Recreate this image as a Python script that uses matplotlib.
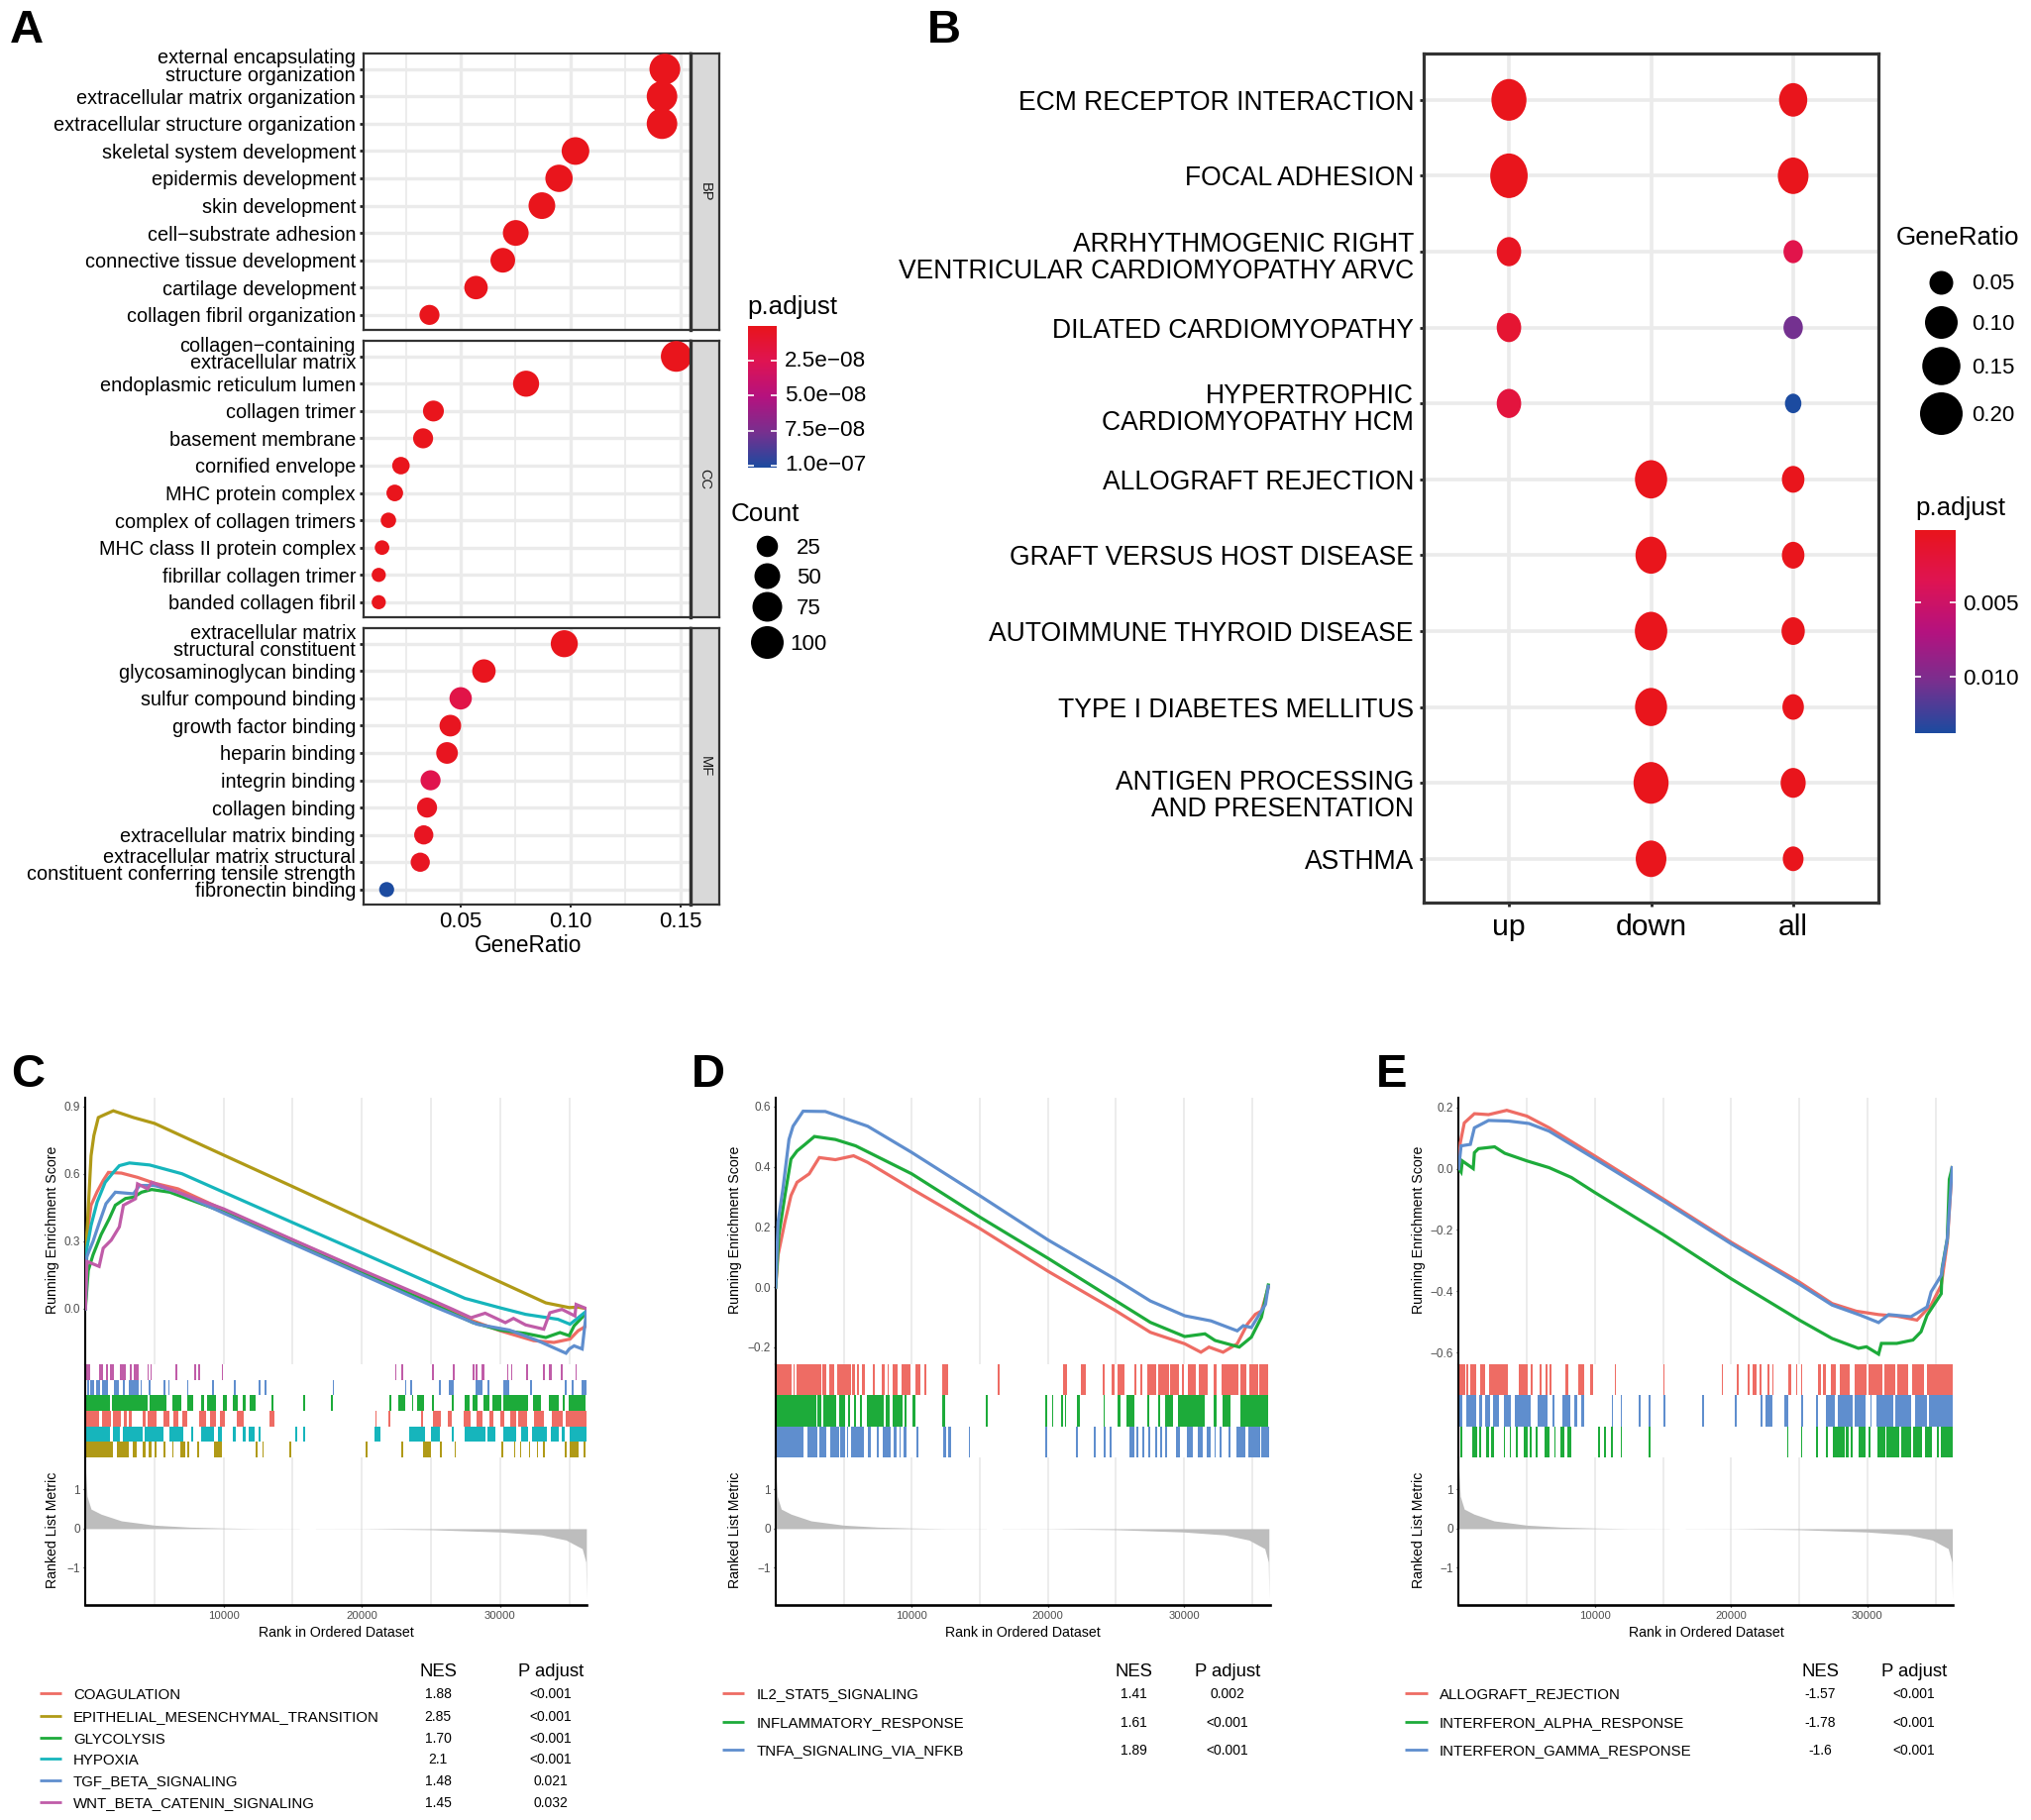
#!/usr/bin/env python3
"""Five panel enrichment figure: GO dotplot, KEGG dotplot and three GSEA plots."""

import numpy as np
import matplotlib

matplotlib.use("Agg")

import matplotlib.pyplot as plt
from matplotlib.colors import LinearSegmentedColormap, Normalize
from matplotlib.path import Path
from matplotlib.transforms import Affine2D, ScaledTranslation

W, H = 2050, 1837
DPI = 100
GRID = "#EBEBEB"
FRAME = "#333333"
GREY_TEXT = "#4D4D4D"

plt.rcParams["font.family"] = ["Liberation Sans", "DejaVu Sans"]

CMAP = LinearSegmentedColormap.from_list(
    "padj", ["#E9151C", "#DF1453", "#B5127F", "#78308F", "#1C4BA0"]
)

# panel A
A_BP_TERMS = [
    "external encapsulating\nstructure organization",
    "extracellular matrix organization",
    "extracellular structure organization",
    "skeletal system development",
    "epidermis development",
    "skin development",
    "cell\u2212substrate adhesion",
    "connective tissue development",
    "cartilage development",
    "collagen fibril organization",
]
A_BP_RATIO = [0.143, 0.1417, 0.1417, 0.1023, 0.0948, 0.087, 0.0751, 0.0692, 0.057, 0.0358]
A_BP_COUNT = [84, 82, 82, 62, 60, 56, 50, 44, 37, 22]
A_BP_PADJ = [1e-10] * 10

A_CC_TERMS = [
    "collagen\u2212containing\nextracellular matrix",
    "endoplasmic reticulum lumen",
    "collagen trimer",
    "basement membrane",
    "cornified envelope",
    "MHC protein complex",
    "complex of collagen trimers",
    "MHC class II protein complex",
    "fibrillar collagen trimer",
    "banded collagen fibril",
]
A_CC_RATIO = [0.1482, 0.0798, 0.0376, 0.0329, 0.0228, 0.02, 0.0171, 0.0142, 0.0127, 0.0127]
A_CC_COUNT = [84, 52, 24, 22, 16, 14, 11, 9, 8, 8]
A_CC_PADJ = [1e-10] * 10

A_MF_TERMS = [
    "extracellular matrix\nstructural constituent",
    "glycosaminoglycan binding",
    "sulfur compound binding",
    "growth factor binding",
    "heparin binding",
    "integrin binding",
    "collagen binding",
    "extracellular matrix binding",
    "extracellular matrix structural\nconstituent conferring tensile strength",
    "fibronectin binding",
]
A_MF_RATIO = [0.0972, 0.0606, 0.05, 0.0453, 0.0438, 0.0363, 0.0347, 0.0332, 0.0316, 0.0163]
A_MF_COUNT = [58, 37, 31, 27, 27, 22, 22, 20, 20, 10]
A_MF_PADJ = [1e-10, 1e-9, 2.0e-8, 2e-9, 2e-9, 2.3e-8, 3e-9, 3e-9, 3e-9, 1e-7]

A_COUNT_NODES = [5, 25, 50, 75, 100]
A_DIAM_NODES = [13, 21.5, 26, 30, 33]
A_COUNT_LEGEND = [25, 50, 75, 100]
A_PADJ_TICKS = [2.5e-8, 5.0e-8, 7.5e-8, 1.0e-7]
A_PADJ_LABELS = ["2.5e\u221208", "5.0e\u221208", "7.5e\u221208", "1.0e\u221207"]

# panel B
B_TERMS = [
    "ECM RECEPTOR INTERACTION",
    "FOCAL ADHESION",
    "ARRHYTHMOGENIC RIGHT\nVENTRICULAR CARDIOMYOPATHY ARVC",
    "DILATED CARDIOMYOPATHY",
    "HYPERTROPHIC\nCARDIOMYOPATHY HCM",
    "ALLOGRAFT REJECTION",
    "GRAFT VERSUS HOST DISEASE",
    "AUTOIMMUNE THYROID DISEASE",
    "TYPE I DIABETES MELLITUS",
    "ANTIGEN PROCESSING\nAND PRESENTATION",
    "ASTHMA",
]
B_GROUPS = ["up", "down", "all"]
nan = float("nan")
B_UP_RATIO = [0.19, 0.225, 0.08, 0.08, 0.08, nan, nan, nan, nan, nan, nan]
B_UP_PADJ = [1e-5, 1e-5, 5e-4, 1.5e-3, 2.2e-3, nan, nan, nan, nan, nan, nan]
B_DOWN_RATIO = [nan, nan, nan, nan, nan, 0.152, 0.14, 0.155, 0.15, 0.19, 0.135]
B_DOWN_PADJ = [nan, nan, nan, nan, nan, 1e-5, 1e-5, 1e-5, 1e-5, 1e-5, 1e-5]
B_ALL_RATIO = [0.108, 0.135, 0.047, 0.047, 0.033, 0.067, 0.067, 0.072, 0.06, 0.084, 0.055]
B_ALL_PADJ = [1e-5, 1e-5, 3e-3, 0.0105, 0.0138, 1e-5, 1e-5, 1e-5, 1e-5, 1e-5, 1e-5]
B_RATIO_NODES = [0.03, 0.05, 0.10, 0.15, 0.20, 0.25]
B_DIAM_NODES = [19, 24, 33, 38.5, 43, 47]
B_RATIO_LEGEND = [0.05, 0.10, 0.15, 0.20]
B_PADJ_TICKS = [0.005, 0.010]

# shared ranked list metric
METRIC_RANK = [0, 117, 409, 1140, 2602, 5000, 7500, 10000, 12500, 15470, 15471, 16639,
               16640, 20000, 25000, 30000, 33000, 34766, 35936, 36200, 36240]
METRIC_VALUE = [1.6, 0.83, 0.5, 0.37, 0.2, 0.09, 0.04, 0.017, 0.004, 0.003, 0, 0,
                -0.003, -0.004, -0.025, -0.085, -0.16, -0.29, -0.51, -0.85, -1.78]

# panel C
C_COAG_RANK = [0, 58, 409, 848, 1287, 1667, 2602, 3772, 5000, 6696, 10000, 15029, 20000,
               25000, 28041, 30000, 32427, 33889, 35058, 35643, 36258, 36258]
C_COAG_ES = [0, 0.30, 0.46, 0.52, 0.57, 0.606, 0.603, 0.584, 0.558, 0.533, 0.44, 0.304, 0.168,
             0.033, -0.054, -0.098, -0.142, -0.15, -0.135, -0.098, -0.076, 0]
C_EMT_RANK = [0, 58, 409, 614, 936, 1287, 2018, 3480, 5000, 10000, 15029, 20000, 25000,
              30000, 33304, 35000, 35643, 36258]
C_EMT_ES = [0, 0.27, 0.68, 0.77, 0.85, 0.86, 0.88, 0.85, 0.824, 0.683, 0.542, 0.401, 0.26,
            0.119, 0.026, 0.005, 0.007, 0]
C_GLY_RANK = [0, 205, 556, 1140, 1725, 2164, 2895, 3480, 4064, 4795, 6111, 10000, 15029,
              20000, 25000, 28041, 30000, 31842, 33304, 34328, 35000, 35351, 36258]
C_GLY_ES = [0, 0.17, 0.24, 0.33, 0.40, 0.46, 0.49, 0.496, 0.518, 0.53, 0.518, 0.43, 0.296,
            0.16, 0.024, -0.062, -0.095, -0.11, -0.128, -0.106, -0.12, -0.076, -0.018]
C_HYP_RANK = [0, 117, 409, 848, 1433, 2018, 2456, 3187, 4649, 6988, 10000, 15029, 20000,
              25000, 27456, 30000, 31842, 34182, 35058, 36258]
C_HYP_ES = [0, 0.27, 0.37, 0.474, 0.562, 0.606, 0.636, 0.648, 0.639, 0.60, 0.518, 0.382, 0.248,
            0.112, 0.046, 0.004, -0.025, -0.047, -0.069, -0.01]
C_TGF_RANK = [0, 58, 556, 994, 1491, 2164, 3480, 3918, 5000, 6696, 10000, 15029, 20000,
              25000, 28334, 30673, 32720, 34766, 35000, 35351, 35936, 36258]
C_TGF_ES = [0, 0.225, 0.30, 0.38, 0.467, 0.518, 0.511, 0.548, 0.548, 0.518, 0.425, 0.288, 0.152,
            0.015, -0.069, -0.095, -0.142, -0.198, -0.179, -0.165, -0.179, -0.003]
C_WNT_RANK = [0, 117, 994, 1287, 1871, 2456, 2749, 3626, 3772, 4503, 4795, 6696, 10000, 15029,
              20000, 25000, 26579, 27895, 28919, 30380, 30965, 31842, 33158, 33597, 34474,
              35410, 35497, 36258]
C_WNT_ES = [0, 0.21, 0.188, 0.269, 0.305, 0.364, 0.46, 0.489, 0.555, 0.533, 0.562, 0.518, 0.444,
            0.306, 0.172, 0.04, -0.003, -0.04, -0.02, -0.062, -0.043, -0.072, -0.091, -0.018,
            -0.003, -0.032, 0.019, 0]

C_RUG_WNT = [(80, 320), (990, 1260), (1490, 1670), (1790, 2080), (2490, 2930), (3220, 3390),
             (3510, 3860), (4500, 4590), (4740, 4820), (6490, 6670), (7890, 8010), (8190, 8330),
             (9880, 9970), (22400, 22490), (22870, 22980), (25060, 25180), (26580, 26700),
             (28040, 28130), (28230, 28340), (28660, 28860), (30530, 30620), (30820, 30910),
             (31900, 31990), (33130, 33220), (33540, 33770), (34390, 34500), (35440, 35530)]
C_RUG_TGF = [(150, 290), (380, 640), (790, 1050), (1200, 1610), (2050, 2400), (2690, 2870),
             (3130, 3830), (3980, 4060), (4590, 4740), (5670, 5790), (5990, 6110), (7340, 7430),
             (9150, 9270), (10730, 10850), (12520, 12660), (12960, 13070), (17890, 18010),
             (23100, 23210), (23510, 23630), (25590, 25700), (26290, 26640), (28220, 28690),
             (29100, 29250), (30240, 30680), (32190, 32310), (34680, 34800), (35210, 35330),
             (35880, 36230)]
C_RUG_GLY = [(60, 1780), (1900, 4500), (4680, 5880), (6260, 6930), (7400, 7780), (8390, 8600),
             (8830, 9450), (9970, 10200), (10640, 10990), (11370, 11580), (11870, 12310),
             (13480, 13600), (15760, 15880), (17750, 17890), (22020, 22130), (22630, 23120),
             (23630, 23740), (24030, 24530), (25060, 25200), (26490, 26640), (27400, 27810),
             (27980, 28390), (28800, 29210), (29450, 30090), (30240, 31990), (32370, 32960),
             (33540, 34240), (34560, 34680), (34970, 36170)]
C_RUG_COAG = [(60, 990), (1200, 1870), (2020, 2600), (2800, 2980), (3130, 3330), (4120, 4360),
              (4500, 5180), (5640, 6110), (6400, 6700), (7020, 7340), (8220, 8740), (9030, 9470),
              (9710, 10060), (10940, 11460), (13330, 13710), (20960, 21080), (21890, 22030),
              (24270, 24390), (25120, 25700), (26230, 26520), (27340, 27900), (28280, 28720),
              (29230, 29520), (30030, 30320), (30730, 31140), (31320, 31960), (32430, 33160),
              (33740, 34530), (34770, 36290)]
C_RUG_HYP = [(60, 1780), (1960, 2460), (2690, 4120), (4300, 5670), (6110, 7080), (7660, 7810),
             (8360, 9330), (9560, 9910), (10640, 10880), (11410, 11610), (11840, 12250),
             (12540, 12690), (13070, 13130), (15180, 15350), (15760, 15880), (20910, 21370),
             (23450, 24590), (24970, 25610), (26520, 26640), (27400, 28920), (29070, 29650),
             (30240, 31170), (31490, 31990), (32310, 33360), (33660, 34240), (34480, 34650),
             (35060, 36290)]
C_RUG_EMT = [(60, 2020), (2310, 3130), (3400, 3710), (4150, 4360), (4590, 4770), (5000, 5180),
             (5670, 5820), (6260, 6400), (6840, 7190), (7370, 7510), (8100, 8220), (9330, 9850),
             (12340, 12460), (12840, 12920), (14760, 14880), (20260, 20380), (22870, 22980),
             (24390, 24970), (25610, 25760), (26720, 26810), (30090, 30210), (31020, 31110),
             (31430, 31550), (32080, 32190), (32660, 32750), (33130, 33220), (34680, 34800),
             (35060, 35700), (36060, 36150)]

C_NAMES = ["COAGULATION", "EPITHELIAL_MESENCHYMAL_TRANSITION", "GLYCOLYSIS", "HYPOXIA",
           "TGF_BETA_SIGNALING", "WNT_BETA_CATENIN_SIGNALING"]
C_NES = ["1.88", "2.85", "1.70", "2.1", "1.48", "1.45"]
C_PADJ = ["<0.001", "<0.001", "<0.001", "<0.001", "0.021", "0.032"]

# panel D
D_IL2_RANK = [0, 178, 682, 1127, 1573, 2463, 3204, 4391, 5726, 6765, 10000, 14984, 20000, 25012,
              27534, 30056, 31243, 31837, 32875, 33914, 34656, 35249, 35694, 36197]
D_IL2_ES = [0, 0.107, 0.217, 0.304, 0.348, 0.376, 0.43, 0.423, 0.436, 0.414, 0.326, 0.195, 0.053,
            -0.079, -0.15, -0.188, -0.216, -0.199, -0.216, -0.188, -0.123, -0.09, -0.079, -0.002]
D_INF_RANK = [0, 237, 682, 1127, 1573, 2166, 2848, 4391, 5875, 10000, 14984, 20000, 25012, 27534,
              30056, 31540, 32282, 34063, 34952, 35694, 36197]
D_INF_ES = [0, 0.173, 0.304, 0.425, 0.452, 0.474, 0.50, 0.49, 0.469, 0.376, 0.233, 0.096, -0.046,
            -0.117, -0.164, -0.155, -0.177, -0.199, -0.166, -0.10, 0.007]
D_TNF_RANK = [0, 178, 534, 979, 1276, 2018, 3649, 4985, 6765, 10000, 14984, 20000, 25012, 27534,
              30056, 31985, 33914, 34359, 34952, 35545, 35990, 36197]
D_TNF_ES = [0, 0.217, 0.326, 0.49, 0.534, 0.584, 0.583, 0.562, 0.534, 0.447, 0.304, 0.157, 0.025,
            -0.046, -0.095, -0.112, -0.145, -0.128, -0.134, -0.09, -0.057, 0.003]

D_RUG_IL2 = [(0, 1190), (1340, 1420), (1510, 3350), (3410, 3740), (3950, 4300), (4510, 5550),
             (5610, 5820), (5970, 6140), (6350, 6530), (7150, 7300), (7780, 8010), (8220, 8340),
             (8630, 8960), (9230, 9880), (10270, 10620), (10920, 11040), (12220, 12700),
             (16320, 16440), (21150, 21390), (22450, 22800), (24060, 24210), (24710, 24920),
             (25100, 25640), (26350, 26500), (26790, 26940), (27300, 27980), (28130, 28870),
             (28960, 29610), (29850, 30000), (30300, 30860), (31090, 31770), (32190, 32430),
             (32730, 33980), (34120, 34560), (34770, 35450), (35540, 36200)]
D_RUG_INF = [(0, 2970), (3090, 3380), (3500, 4480), (4630, 5100), (5340, 5490), (5730, 5870),
             (6230, 6350), (6710, 7950), (8100, 8400), (8630, 9290), (9490, 9640), (10030, 10270),
             (12220, 12430), (15460, 15580), (19820, 19940), (20290, 20410), (20950, 21120),
             (21240, 21330), (22130, 22370), (24090, 24210), (25130, 25340), (25750, 26350),
             (27330, 27450), (28130, 28280), (28580, 29170), (29550, 31540), (32190, 32430),
             (32870, 33410), (34120, 36200)]
D_RUG_TNF = [(0, 2080), (2310, 3090), (3200, 3740), (4030, 4630), (4750, 5130), (5220, 5340),
             (5520, 6470), (6770, 6970), (7450, 7570), (7890, 8460), (8690, 8900), (9080, 9200),
             (9430, 9580), (10330, 10470), (12310, 12550), (12700, 12880), (14180, 14300),
             (19820, 19940), (22070, 22190), (23380, 23500), (24120, 24240), (24510, 24690),
             (26000, 26350), (26500, 26640), (26940, 27090), (27390, 27530), (27890, 28040),
             (28280, 28430), (28580, 28730), (29410, 29740), (30210, 30620), (31000, 31390),
             (31690, 31980), (32220, 32340), (32640, 32760), (33260, 33410), (33820, 34530),
             (34740, 35600), (35690, 36290)]

D_NAMES = ["IL2_STAT5_SIGNALING", "INFLAMMATORY_RESPONSE", "TNFA_SIGNALING_VIA_NFKB"]
D_NES = ["1.41", "1.61", "1.89"]
D_PADJ = ["0.002", "<0.001", "<0.001"]

# panel E
E_ALLO_RANK = [0, 119, 415, 1157, 2196, 3531, 5014, 6646, 9999, 15013, 19998, 25012, 27415, 29195,
               30827, 32162, 33646, 34684, 35426, 35871, 36226]
E_ALLO_ES = [0, 0.084, 0.149, 0.179, 0.176, 0.19, 0.171, 0.133, 0.041, -0.099, -0.24, -0.37,
             -0.44, -0.465, -0.476, -0.481, -0.494, -0.445, -0.38, -0.24, 0.003]
E_GAM_RANK = [0, 178, 860, 1157, 2196, 3679, 5163, 6646, 9999, 15013, 19998, 25012, 27415, 29492,
              30827, 31569, 33201, 34387, 34684, 35426, 35871, 36019, 36226]
E_GAM_ES = [0, 0.074, 0.079, 0.133, 0.157, 0.155, 0.147, 0.122, 0.032, -0.105, -0.245, -0.377,
            -0.445, -0.478, -0.502, -0.476, -0.483, -0.451, -0.402, -0.348, -0.229, -0.132, 0.003]
E_ALP_RANK = [0, 178, 267, 1068, 1157, 1454, 2641, 3382, 5014, 6646, 8278, 9999, 15013, 19998,
              25012, 27415, 29344, 29937, 30827, 31035, 32162, 33349, 33942, 34387, 35426, 35485,
              35871, 36019, 36226]
E_ALP_ES = [0, -0.011, 0.025, 0, 0.052, 0.065, 0.071, 0.05, 0.025, 0.003, -0.029, -0.078, -0.215,
            -0.359, -0.494, -0.554, -0.586, -0.581, -0.605, -0.57, -0.57, -0.559, -0.532, -0.478,
            -0.408, -0.326, -0.229, -0.035, 0.003]

E_RUG_ALLO = [(0, 470), (590, 710), (860, 1300), (1600, 1960), (2200, 3620), (4420, 5100),
              (5310, 5460), (5930, 6110), (6350, 6500), (6700, 6820), (7830, 8070), (8780, 9230),
              (9670, 9850), (11480, 11570), (15010, 15100), (19310, 19430), (20440, 20590),
              (21240, 21360), (21600, 21840), (22070, 22220), (22670, 22790), (23020, 23140),
              (24180, 24450), (24750, 24870), (25130, 25240), (26380, 26590), (26770, 26970),
              (27330, 27710), (28010, 28690), (29040, 29930), (30070, 31120), (31270, 32040),
              (32220, 32990), (33290, 34180), (34390, 36260)]
E_RUG_GAM = [(0, 300), (590, 1300), (1540, 1690), (1960, 2310), (2490, 2940), (3320, 3830),
             (4120, 5310), (5760, 6500), (6880, 7060), (7650, 8190), (8490, 8720), (9020, 9200),
             (11220, 11330), (11870, 11980), (13230, 13380), (13940, 14060), (15040, 15160),
             (17860, 17980), (20290, 20410), (22160, 22310), (22550, 23050), (23920, 24210),
             (25160, 25310), (26230, 26380), (26970, 27590), (27860, 28900), (29100, 29850),
             (30240, 30330), (30680, 31870), (32070, 33200), (33500, 34390), (34540, 36260)]
E_RUG_ALP = [(120, 270), (1010, 1360), (1510, 1660), (2020, 2200), (2370, 2610), (3290, 3410),
             (3740, 3830), (4210, 4330), (4810, 5100), (5220, 5370), (5640, 5760), (6320, 6700),
             (7000, 7090), (7480, 7770), (7990, 8280), (10240, 10350), (10650, 10800),
             (11180, 11330), (11870, 11980), (13940, 14060), (24090, 24180), (25130, 25240),
             (26230, 26350), (26970, 27090), (27480, 28310), (28400, 28600), (28810, 28960),
             (29340, 29850), (30090, 30240), (30740, 31330), (31420, 32310), (32460, 33200),
             (33350, 34000), (34240, 34770), (35070, 35250), (35430, 36260)]

E_NAMES = ["ALLOGRAFT_REJECTION", "INTERFERON_ALPHA_RESPONSE", "INTERFERON_GAMMA_RESPONSE"]
E_NES = ["-1.57", "-1.78", "-1.6"]
E_PADJ = ["<0.001", "<0.001", "<0.001"]

RED, GOLD, GREEN, TEAL, BLUE, MAGENTA = (
    "#EE6C64", "#B09A17", "#1DAB3A", "#16B5BC", "#5F8ECE", "#C05CA8",
)


fig = plt.figure(figsize=(W / DPI, H / DPI), dpi=DPI, facecolor="white")


def add_ax(x0, y0, x1, y1, **kwargs):
    # axes from a pixel box measured from the top left corner
    return fig.add_axes([x0 / W, 1 - y1 / H, (x1 - x0) / W, (y1 - y0) / H], **kwargs)


def px_text(x, y, s, size, **kwargs):
    kwargs.setdefault("ha", "left")
    kwargs.setdefault("va", "center")
    # va="center" counts the descender, so optically centre the glyphs
    if kwargs.get("rotation"):
        x += size * 0.14
    else:
        y += size * 0.14
    return fig.text(x / W, 1 - y / H, s, fontsize=size, **kwargs)


def pts(diam):
    return (np.asarray(diam, dtype=float) * 72 / DPI) ** 2


def a_size(count):
    return pts(np.interp(count, A_COUNT_NODES, A_DIAM_NODES))


def b_size(ratio):
    return pts(np.interp(ratio, B_RATIO_NODES, B_DIAM_NODES))


def nudge_labels(ax, shifts):
    # multi-line tick labels do not sit centred on their tick in the original
    for index, dy_px in shifts.items():
        label = ax.get_yticklabels()[index]
        offset = ScaledTranslation(0, -dy_px * 72 / DPI / 72, fig.dpi_scale_trans)
        label.set_transform(label.get_transform() + offset)


def colorbar(box, vmin, vmax, ticks, labels, size, label_x, label_dy):
    ax = add_ax(*box)
    grad = np.linspace(0, 1, 256).reshape(-1, 1)
    ax.imshow(grad, cmap=CMAP, aspect="auto", extent=(0, 1, vmax, vmin))
    ax.set_xticks([])
    ax.set_yticks(ticks)
    ax.set_yticklabels([])
    ax.tick_params(axis="y", direction="in", left=True, right=True, color="white",
                   length=4.5, width=1.2)
    for spine in ax.spines.values():
        spine.set_visible(False)
    y0, y1 = box[1], box[3]
    for tick, label in zip(ticks, labels):
        ypx = y0 + (tick - vmin) / (vmax - vmin) * (y1 - y0)
        px_text(label_x, ypx + label_dy, label, size)


def go_facet(box, strip, terms, ratio, count, padj, shifts, show_x=False):
    ax = add_ax(*box)
    y = np.arange(len(terms))
    ax.set_xlim(0.0058, 0.1547)
    ax.set_ylim(9.55, -0.57)
    ax.set_axisbelow(True)
    ax.set_xticks([0.05, 0.10, 0.15])
    ax.set_xticks([0.025, 0.075, 0.125], minor=True)
    ax.grid(True, axis="x", which="major", color=GRID, lw=2.4)
    ax.grid(True, axis="x", which="minor", color=GRID, lw=1.3)
    ax.grid(True, axis="y", color=GRID, lw=2.4)
    ax.tick_params(axis="x", which="minor", length=0)
    ax.scatter(ratio, y, s=a_size(count), c=padj, cmap=CMAP, norm=A_NORM, linewidths=0, zorder=3)
    ax.set_yticks(y)
    ax.set_yticklabels(terms, fontsize=14.3, linespacing=0.88)
    ax.tick_params(axis="y", length=3.2, width=2, color="#222222", pad=2.5)
    ax.set_xticklabels(["0.05", "0.10", "0.15"])
    ax.tick_params(axis="x", which="major", length=2 if show_x else 0, width=1.4, color="#222222",
                   pad=3, labelsize=16, labelbottom=show_x)
    nudge_labels(ax, shifts)
    for spine in ax.spines.values():
        spine.set_color(FRAME)
        spine.set_linewidth(1.6)

    sx = add_ax(box[2], box[1], 726, box[3])
    sx.set_facecolor("#D9D9D9")
    sx.set_xticks([])
    sx.set_yticks([])
    for spine in sx.spines.values():
        spine.set_color(FRAME)
        spine.set_linewidth(1.6)
    sx.spines["left"].set_linewidth(2.4)
    sx.text(0.5, 0.5, strip, rotation=270, ha="center", va="center", fontsize=10.5,
            transform=sx.transAxes, color="#1A1A1A")
    return ax


def gsea_panel(x0, x1, xlim, es_ylim, es_ticks, curves, rugs):
    # three stacked strips: running score, hit rug, ranked metric
    ax_es = add_ax(x0, 1108, x1, 1377)
    for rank, es, color in curves:
        ax_es.plot(rank, es, color=color, lw=2.3, solid_joinstyle="miter", zorder=3)
    ax_es.set_xlim(*xlim)
    ax_es.set_ylim(*es_ylim)
    ax_es.set_xticks(RANK_GRID)
    ax_es.grid(True, axis="x", color=GRID, lw=1.3)
    ax_es.set_axisbelow(True)
    ax_es.set_yticks(es_ticks)
    ax_es.set_yticklabels([f"{t:.1f}".replace("-", "\u2212") for t in es_ticks])
    ax_es.tick_params(axis="y", labelsize=8.5, labelcolor=GREY_TEXT, color="#333333",
                      length=1.6, width=0.9, pad=2.2)
    ax_es.tick_params(axis="x", length=0, labelbottom=False)
    for side in ("top", "right", "bottom"):
        ax_es.spines[side].set_visible(False)
    ax_es.spines["left"].set_linewidth(1.5)

    ax_rug = add_ax(x0, 1377, x1, 1471)
    for row, (hits, color) in enumerate(rugs):
        ax_rug.broken_barh([(s, e - s) for s, e in hits], (row, 1), facecolors=color,
                           linewidth=0)
    ax_rug.set_xlim(*xlim)
    ax_rug.set_ylim(len(rugs), 0)
    ax_rug.set_xticks([])
    ax_rug.set_yticks([])
    for side in ("top", "right", "bottom"):
        ax_rug.spines[side].set_visible(False)
    ax_rug.spines["left"].set_linewidth(1.5)

    ax_m = add_ax(x0, 1471, x1, 1620)
    ax_m.fill_between(METRIC_RANK, METRIC_VALUE, 0, color="#BDBDBD", linewidth=0, zorder=2)
    ax_m.set_xlim(*xlim)
    ax_m.set_ylim(-1.95, 1.82)
    ax_m.set_xticks(RANK_TICKS)
    ax_m.set_xticklabels([str(t) for t in RANK_TICKS])
    ax_m.set_xticks(RANK_MINOR, minor=True)
    ax_m.grid(True, axis="x", which="both", color=GRID, lw=1.3)
    ax_m.set_axisbelow(True)
    ax_m.set_yticks([-1, 0, 1])
    ax_m.set_yticklabels(["\u22121", "0", "1"])
    ax_m.tick_params(axis="y", labelsize=8.5, labelcolor=GREY_TEXT, color="#333333",
                     length=1.6, width=0.9, pad=2.2)
    ax_m.tick_params(axis="x", which="major", labelsize=8.1, labelcolor=GREY_TEXT, length=1.4,
                     width=0.9, pad=3)
    ax_m.tick_params(axis="x", which="minor", length=0)
    for side in ("top", "right"):
        ax_m.spines[side].set_visible(False)
    ax_m.spines["left"].set_linewidth(1.5)
    ax_m.spines["bottom"].set_linewidth(1.9)
    return ax_es


def table(overlay, line_x, label_x, nes_x, p_x, rows_y, names, nes, padj, colors):
    px_text(nes_x, 1686, "NES", 13.3, ha="center")
    px_text(p_x, 1686, "P adjust", 13.3, ha="center")
    for y, name, n, p, color in zip(rows_y, names, nes, padj, colors):
        overlay.plot(line_x, [y, y], color=color, lw=2, solid_capstyle="butt")
        px_text(label_x, y, name, 10.8)
        px_text(nes_x, y, n, 10, ha="center")
        px_text(p_x, y, p, 10, ha="center")


RANK_TICKS = [10000, 20000, 30000]
RANK_MINOR = [5000, 15000, 25000, 35000]
RANK_GRID = [5000, 10000, 15000, 20000, 25000, 30000, 35000]

A_NORM = Normalize(0, 1.0e-7)
B_NORM = Normalize(1e-4, 0.0138)

# panel A
go_facet((367, 54, 697, 333), "BP", A_BP_TERMS, A_BP_RATIO, A_BP_COUNT, A_BP_PADJ, {0: -3.3})
go_facet((367, 344, 697, 623), "CC", A_CC_TERMS, A_CC_RATIO, A_CC_COUNT, A_CC_PADJ, {0: -3.0})
go_facet((367, 634, 697, 913), "MF", A_MF_TERMS, A_MF_RATIO, A_MF_COUNT, A_MF_PADJ,
         {0: -3.0, 8: 2.5}, show_x=True)
px_text(533, 952, "GeneRatio", 16.3, ha="center")
px_text(754, 307, "p.adjust", 18.7)
colorbar((755, 329, 784, 472), 0, 1.015e-7, A_PADJ_TICKS, A_PADJ_LABELS, 16.2, 792, -2.3)
px_text(738, 516, "Count", 18.7)

# panel B
ax_b = add_ax(1437, 54, 1896, 911)
b_y = np.arange(len(B_TERMS))
ax_b.set_xlim(-0.6, 2.6)
ax_b.set_ylim(10.577, -0.611)
ax_b.set_axisbelow(True)
ax_b.grid(True, color=GRID, lw=2.6)
oval = Path.unit_circle().transformed(Affine2D().scale(1 / 1.19, 1))
for col, (ratio, padj) in enumerate(
    [(B_UP_RATIO, B_UP_PADJ), (B_DOWN_RATIO, B_DOWN_PADJ), (B_ALL_RATIO, B_ALL_PADJ)]
):
    ratio = np.array(ratio)
    padj = np.array(padj)
    keep = ~np.isnan(ratio)
    ax_b.scatter(np.full(keep.sum(), col), b_y[keep], s=b_size(ratio[keep]), c=padj[keep],
                 cmap=CMAP, norm=B_NORM, marker=oval, linewidths=0, zorder=3)
ax_b.set_xticks(range(3))
ax_b.set_xticklabels(B_GROUPS, fontsize=21.7)
ax_b.set_yticks(b_y)
ax_b.set_yticklabels(B_TERMS, fontsize=19.1, linespacing=1.06)
ax_b.tick_params(axis="y", length=3.2, width=2, color="#222222", pad=4)
ax_b.tick_params(axis="x", length=3.2, width=2, color="#222222", pad=5)
nudge_labels(ax_b, {2: 3, 4: 3, 9: 10})
for spine in ax_b.spines.values():
    spine.set_color(FRAME)
    spine.set_linewidth(2.3)
px_text(1914, 237, "GeneRatio", 18.7)
px_text(1933, 510, "p.adjust", 18.7)
colorbar((1933, 535, 1974, 740), 1e-4, 0.0138, B_PADJ_TICKS, ["0.005", "0.010"], 16.2, 1981, 0)

# panels C, D, E
gsea_panel(86, 592, (-14, 36250), (-0.247, 0.938), [0.0, 0.3, 0.6, 0.9],
           [(C_COAG_RANK, C_COAG_ES, RED), (C_EMT_RANK, C_EMT_ES, GOLD),
            (C_GLY_RANK, C_GLY_ES, GREEN), (C_HYP_RANK, C_HYP_ES, TEAL),
            (C_TGF_RANK, C_TGF_ES, BLUE), (C_WNT_RANK, C_WNT_ES, MAGENTA)],
           [(C_RUG_WNT, MAGENTA), (C_RUG_TGF, BLUE), (C_RUG_GLY, GREEN),
            (C_RUG_COAG, RED), (C_RUG_HYP, TEAL), (C_RUG_EMT, GOLD)])
gsea_panel(783, 1282, (7, 36330), (-0.256, 0.6286), [-0.2, 0.0, 0.2, 0.4, 0.6],
           [(D_IL2_RANK, D_IL2_ES, RED), (D_INF_RANK, D_INF_ES, GREEN),
            (D_TNF_RANK, D_TNF_ES, BLUE)],
           [(D_RUG_IL2, RED), (D_RUG_INF, GREEN), (D_RUG_TNF, BLUE)])
gsea_panel(1472, 1971, (-22, 36270), (-0.638, 0.231), [-0.6, -0.4, -0.2, 0.0, 0.2],
           [(E_ALLO_RANK, E_ALLO_ES, RED), (E_ALP_RANK, E_ALP_ES, GREEN),
            (E_GAM_RANK, E_GAM_ES, BLUE)],
           [(E_RUG_ALLO, RED), (E_RUG_GAM, BLUE), (E_RUG_ALP, GREEN)])

for x_lab, cx in [(52, 339), (741, 1032), (1431, 1722)]:
    px_text(x_lab, 1241, "Running Enrichment Score", 10.2, rotation=90, ha="center")
    px_text(x_lab, 1544, "Ranked List Metric", 10.2, rotation=90, ha="center")
    px_text(cx, 1647, "Rank in Ordered Dataset", 10.2, ha="center")

# pixel overlay for legend keys and table lines
overlay = fig.add_axes([0, 0, 1, 1], facecolor="none")
overlay.set_xlim(0, W)
overlay.set_ylim(H, 0)
overlay.axis("off")

for count, y in zip(A_COUNT_LEGEND, [551, 581, 612, 648]):
    overlay.scatter([774], [y], s=a_size(count), c="black", linewidths=0)
    px_text(816, y, str(count), 16, ha="center")
for ratio, y in zip(B_RATIO_LEGEND, [284.5, 325, 369, 417]):
    overlay.scatter([1959], [y], s=b_size(ratio), c="black", linewidths=0)
    px_text(1990, y, f"{ratio:.2f}", 16)

table(overlay, [40, 62], 74, 442, 556, [1709, 1732, 1754, 1775, 1797, 1819], C_NAMES, C_NES,
      C_PADJ, [RED, GOLD, GREEN, TEAL, BLUE, MAGENTA])
table(overlay, [728.5, 751], 763.6, 1144, 1239, [1709, 1737.7, 1766], D_NAMES, D_NES, D_PADJ,
      [RED, GREEN, BLUE])
table(overlay, [1418, 1441], 1452.6, 1837, 1932, [1709, 1737.7, 1766], E_NAMES, E_NES, E_PADJ,
      [RED, GREEN, BLUE])

for letter, x, y in [("A", 10, 26), ("B", 936, 26), ("C", 11, 1080), ("D", 698, 1080),
                     ("E", 1389, 1080)]:
    px_text(x, y, letter, 34, fontweight="bold")

fig.savefig("out.png", dpi=DPI, facecolor="white")
plt.close(fig)
